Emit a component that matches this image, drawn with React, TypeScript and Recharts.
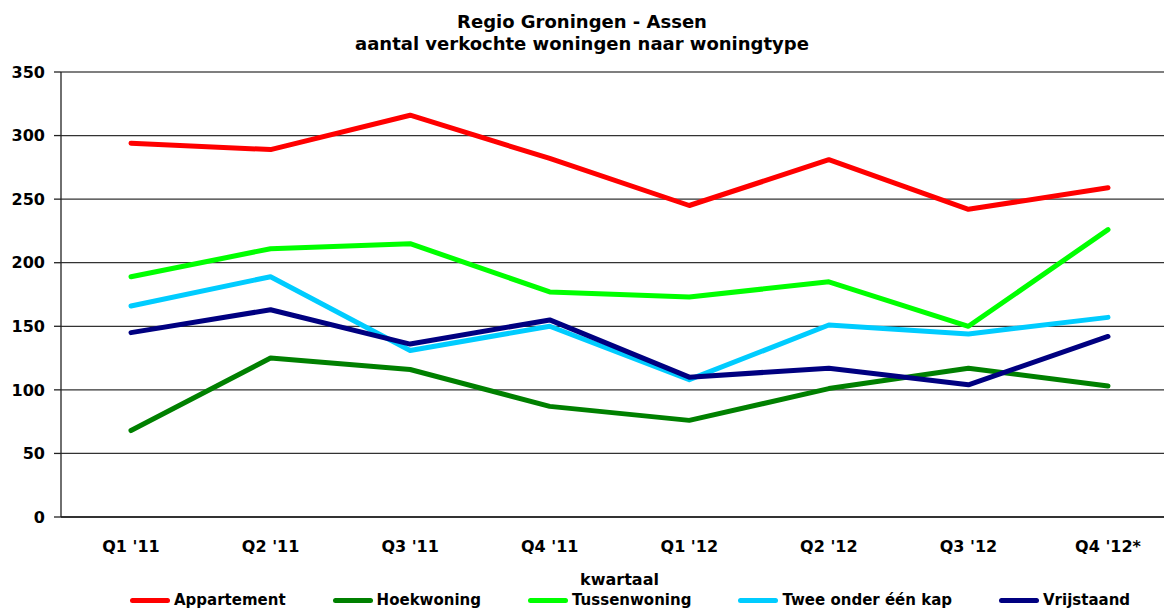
import { LineChart, Line, XAxis, YAxis, CartesianGrid, Legend, ReferenceLine } from 'recharts';

const quarters = ["Q1 '11", "Q2 '11", "Q3 '11", "Q4 '11", "Q1 '12", "Q2 '12", "Q3 '12", "Q4 '12*"];
const appartement = [294, 289, 316, 282, 245, 281, 242, 259];
const hoekwoning = [68, 125, 116, 87, 76, 101, 117, 103];
const tussenwoning = [189, 211, 215, 177, 173, 185, 150, 226];
const tweeOnderEenKap = [166, 189, 131, 150, 108, 151, 144, 157];
const vrijstaand = [145, 163, 136, 155, 110, 117, 104, 142];
const yTicks = [0, 50, 100, 150, 200, 250, 300, 350];
const boundaryTicks = [0, 1, 2, 3, 4, 5, 6, 7, 8];

const series = [
  { key: 'Appartement', color: '#ff0000', values: appartement },
  { key: 'Hoekwoning', color: '#008000', values: hoekwoning },
  { key: 'Tussenwoning', color: '#00ff00', values: tussenwoning },
  { key: 'Twee onder één kap', color: '#00ccff', values: tweeOnderEenKap },
  { key: 'Vrijstaand', color: '#000080', values: vrijstaand },
];

const data = quarters.map((q, i) => {
  const row: Record<string, string | number> = { quarter: q };
  series.forEach((s) => { row[s.key] = s.values[i]; });
  return row;
});

const font = '"DejaVu Sans", sans-serif';
const tickStyle = { fontFamily: font, fontWeight: 'bold', fontSize: 16, fill: '#000' };

const LegendBox = () => (
  <div style={{ height: 18, display: 'flex', alignItems: 'center', paddingLeft: 130, gap: 47, fontFamily: font, fontWeight: 'bold', fontSize: 15, color: '#000' }}>
    {series.map((s) => (
      <div key={s.key} style={{ display: 'flex', alignItems: 'center', whiteSpace: 'nowrap' }}>
        <span style={{ display: 'inline-block', width: 40, height: 5, borderRadius: 3, background: s.color, marginRight: 4 }} />
        {s.key}
      </div>
    ))}
  </div>
);

export default function App() {
  return (
    <div style={{ position: 'absolute', left: 0, top: 0, width: 1164, height: 609, overflow: 'hidden', background: '#fff' }}>
      <div style={{ position: 'absolute', left: 0, top: 11, width: 1164, textAlign: 'center', fontFamily: font, fontWeight: 'bold', fontSize: 18, lineHeight: '22px', color: '#000', zIndex: 2 }}>
        Regio Groningen - Assen
        <br />
        aantal verkochte woningen naar woningtype
      </div>
      <LineChart width={1180} height={609} data={data} margin={{ top: 72, right: 2, bottom: 0, left: 0 }}>
        <CartesianGrid vertical={false} stroke="#333" strokeWidth={1.3} />
        <XAxis
          xAxisId="labels"
          dataKey="quarter"
          height={66}
          padding={{ left: 70, right: 70 }}
          axisLine={false}
          tickLine={false}
          tickMargin={10}
          tick={tickStyle}
          interval={0}
          label={{ value: 'kwartaal', position: 'insideBottom', offset: 6, style: { fontFamily: font, fontWeight: 'bold', fontSize: 16, fill: '#000' } }}
        />
        <XAxis
          xAxisId="bounds"
          type="number"
          domain={[0, 8]}
          ticks={boundaryTicks}
          allowDataOverflow
          height={8}
          tick={false}
          tickSize={7}
          stroke="#222"
          strokeWidth={1.3}
        />
        <YAxis
          width={61}
          domain={[0, 350]}
          ticks={yTicks}
          tickSize={7}
          tickMargin={9}
          tick={tickStyle}
          stroke="#222"
          strokeWidth={1.3}
        />
        <ReferenceLine xAxisId="labels" y={350} stroke="#888" strokeWidth={1.5} />
        <Legend verticalAlign="bottom" content={() => <LegendBox />} />
        {series.map((s) => (
          <Line
            key={s.key}
            xAxisId="labels"
            dataKey={s.key}
            type="linear"
            stroke={s.color}
            strokeWidth={5}
            strokeLinecap="round"
            strokeLinejoin="round"
            dot={false}
            activeDot={false}
            isAnimationActive={false}
          />
        ))}
      </LineChart>
    </div>
  );
}
